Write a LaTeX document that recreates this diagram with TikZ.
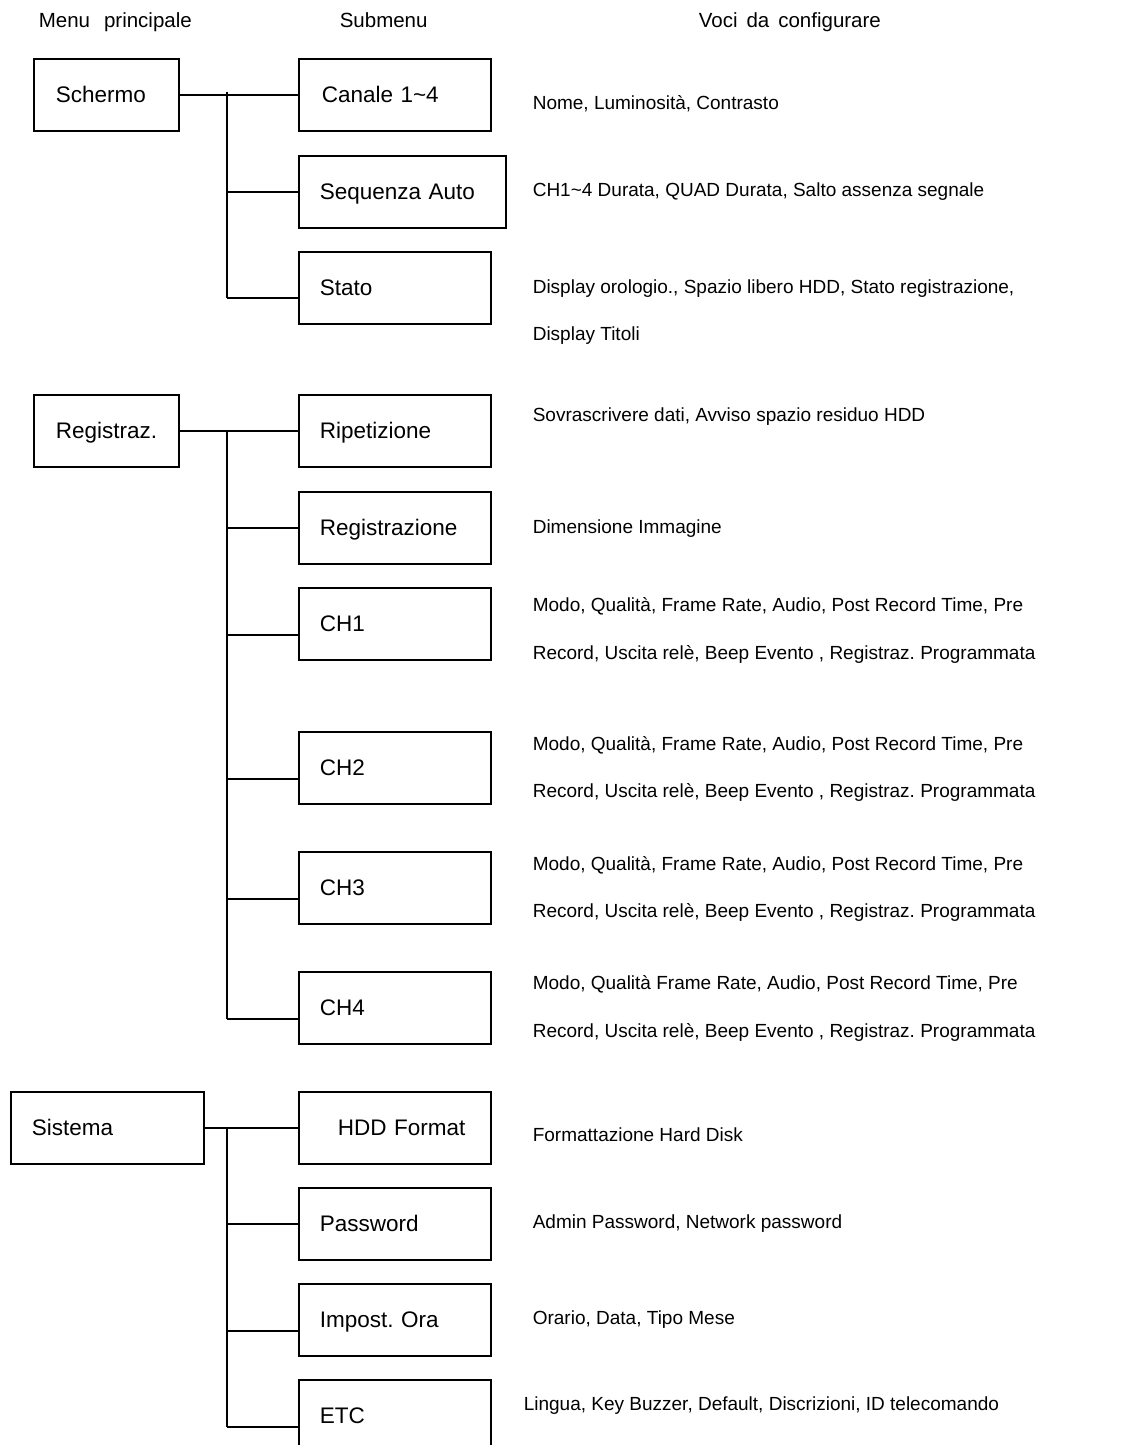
\documentclass[tikz,border=0pt]{standalone}
\usepackage{fontspec}
\setmainfont{Liberation Sans}
\frenchspacing
\begin{document}
\begin{tikzpicture}[x=1pt,y=-1pt,line width=1.6pt,
  bx/.style={draw, anchor=north west, minimum height=72pt, inner ysep=0pt,
    text height=16pt, text depth=0pt, align=left,
    font=\fontsize{22.5}{27}\selectfont},
  mainbox/.style={bx, inner xsep=22pt, text width=101pt},
  subbox/.style={bx, inner xsep=21pt, text width=150pt},
  rtext/.style={anchor=base west, inner sep=0pt, font=\fontsize{19}{23}\selectfont},
  htext/.style={anchor=base west, inner sep=0pt, font=\fontsize{20.5}{24}\selectfont}]
\useasboundingbox (0,0) rectangle (1141,1445);

% headers
\node[htext] (h1) at (38,28) {Menu\hspace{14pt}principale};
\node[htext] (h2) at (339,28) {Submenu};
\node[htext] (h3) at (698,28) {Voci\hspace{9pt}da\hspace{9pt}configurare};

% main boxes
\node[mainbox] (schermo) at (33,58) {Schermo};
\node[mainbox] (registraz) at (33,394) {Registraz.};
\node[bx, inner xsep=21pt, text width=151pt] (sistema) at (10,1091) {Sistema};

% submenu boxes
\node[subbox] (canale) at (298,58) {\hspace*{2pt}Canale 1\textasciitilde4};
\node[bx, inner xsep=21pt, text width=165pt] (sequenza) at (298,155) {Sequenza Auto};
\node[subbox] (stato) at (298,251) {Stato};
\node[subbox] (ripetizione) at (298,394) {Ripetizione};
\node[subbox] (registrazione) at (298,491) {Registrazione};
\node[subbox] (ch1) at (298,587) {CH1};
\node[subbox] (ch2) at (298,731) {CH2};
\node[subbox] (ch3) at (298,851) {CH3};
\node[subbox] (ch4) at (298,971) {CH4};
\node[subbox] (hdd) at (298,1091) {\hspace*{18pt}HDD Format};
\node[subbox] (password) at (298,1187) {Password};
\node[subbox] (impost) at (298,1283) {Impost. Ora};
\node[subbox] (etc) at (298,1379) {ETC};

% connectors: Schermo
\draw (schermo.east) -- (canale.west);
\coordinate (t1a) at (227,92);
\coordinate (t1b) at (227,298);
\draw (t1a) -- (t1b);
\draw (t1a |- sequenza.west) -- (sequenza.west);
\draw (t1b) -- (t1b -| stato.west);

% connectors: Registraz.
\draw (registraz.east) -- (ripetizione.west);
\coordinate (t2a) at (227,430);
\coordinate (t2b) at (227,1019);
\draw (t2a) -- (t2b);
\draw (t2a |- registrazione.west) -- (registrazione.west);
\coordinate (b21) at (227,635);
\coordinate (b22) at (227,779);
\coordinate (b23) at (227,899);
\draw (b21) -- (b21 -| ch1.west);
\draw (b22) -- (b22 -| ch2.west);
\draw (b23) -- (b23 -| ch3.west);
\draw (t2b) -- (t2b -| ch4.west);

% connectors: Sistema
\draw (sistema.east) -- (hdd.west);
\coordinate (t3a) at (227,1127);
\coordinate (t3b) at (227,1427);
\draw (t3a) -- (t3b);
\draw (t3a |- password.west) -- (password.west);
\coordinate (b31) at (227,1331);
\draw (b31) -- (b31 -| impost.west);
\draw (t3b) -- (t3b -| etc.west);

% right column texts
\node[rtext] (r1) at (532,109) {Nome, Luminosità, Contrasto};
\node[rtext] (r2) at (532,196) {CH1\textasciitilde4 Durata, QUAD Durata, Salto assenza segnale};
\node[rtext] (r3a) at (532,293) {Display orologio., Spazio libero HDD, Stato registrazione,};
\node[rtext] (r3b) at (532,340) {Display Titoli};
\node[rtext] (r4) at (532,421) {Sovrascrivere dati, Avviso spazio residuo HDD};
\node[rtext] (r5) at (532,533) {Dimensione Immagine};
\node[rtext] (r6a) at (532,611) {Modo, Qualità, Frame Rate, Audio, Post Record Time, Pre};
\node[rtext] (r6b) at (532,659) {Record, Uscita relè, Beep Evento , Registraz. Programmata};
\node[rtext] (r7a) at (532,750) {Modo, Qualità, Frame Rate, Audio, Post Record Time, Pre};
\node[rtext] (r7b) at (532,797) {Record, Uscita relè, Beep Evento , Registraz. Programmata};
\node[rtext] (r8a) at (532,870) {Modo, Qualità, Frame Rate, Audio, Post Record Time, Pre};
\node[rtext] (r8b) at (532,917) {Record, Uscita relè, Beep Evento , Registraz. Programmata};
\node[rtext] (r9a) at (532,989) {Modo, Qualità Frame Rate, Audio, Post Record Time, Pre};
\node[rtext] (r9b) at (532,1037) {Record, Uscita relè, Beep Evento , Registraz. Programmata};
\node[rtext] (r10) at (532,1141) {Formattazione Hard Disk};
\node[rtext] (r11) at (532,1228) {Admin Password, Network password};
\node[rtext] (r12) at (532,1324) {Orario, Data, Tipo Mese};
\node[rtext] (r13) at (523,1410) {Lingua, Key Buzzer, Default, Discrizioni, ID telecomando};
\end{tikzpicture}
\end{document}
